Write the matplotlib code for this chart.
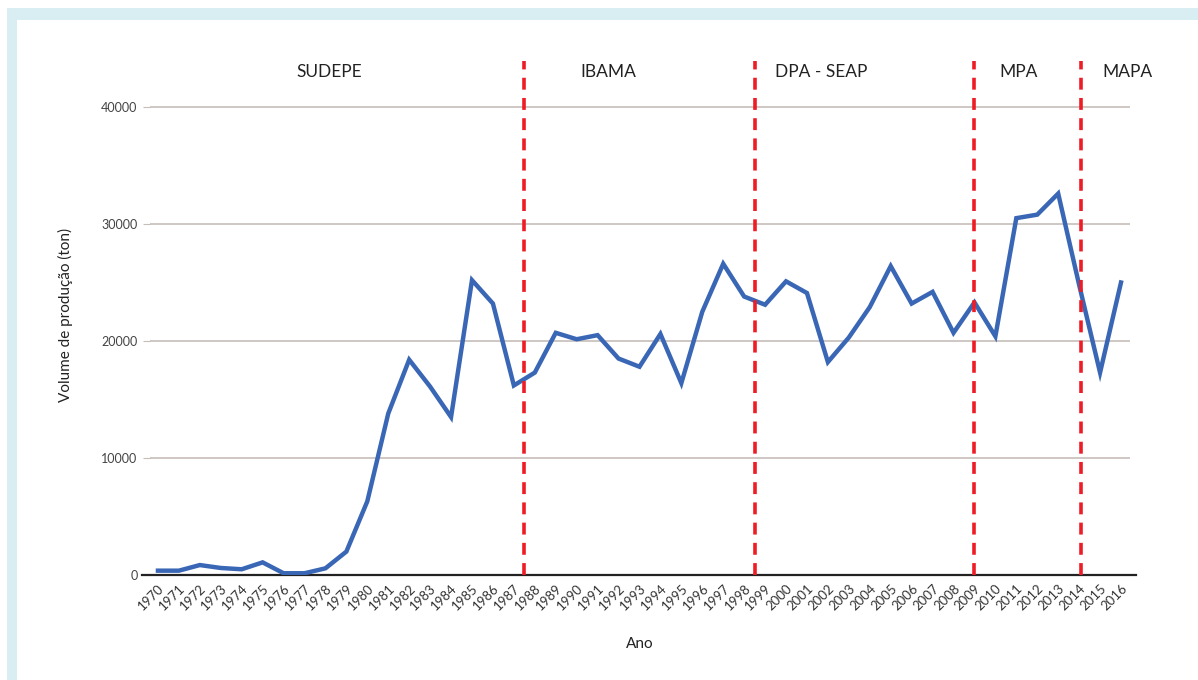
import numpy as np
import matplotlib.pyplot as plt
from matplotlib.patches import Rectangle

plt.rcParams['font.family'] = ['Lato', 'DejaVu Sans']

anos = list(range(1970, 2017))
volume = [370, 370, 850, 600, 490, 1080, 150, 150, 570, 2000,
          6300, 13800, 18400, 16100, 13500, 25200, 23200, 16200, 17300, 20700,
          20150, 20500, 18500, 17800, 20600, 16400, 22500, 26600, 23800, 23100,
          25100, 24100, 18200, 20300, 22900, 26400, 23200, 24200, 20700, 23300,
          20400, 30500, 30800, 32600, 24800, 17300, 25000]

periodos = ['SUDEPE', 'IBAMA', 'DPA - SEAP', 'MPA', 'MAPA']
periodo_x = [1978.2, 1991.5, 2001.7, 2011.1, 2016.3]
divisoes = [1987.5, 1998.5, 2009.0, 2014.1]

fig = plt.figure(figsize=(11.98, 6.8), dpi=100)

# moldura azul clara
fig.patches.append(Rectangle((7/1198, 0), 1, 1 - 8/680, transform=fig.transFigure,
                             facecolor='#d9eef3', edgecolor='none', zorder=-2))
fig.patches.append(Rectangle((17/1198, 0), 1, 1 - 20/680, transform=fig.transFigure,
                             facecolor='white', edgecolor='none', zorder=-1))

ax = fig.add_axes([150/1198, 1 - 575/680, 980/1198, 521/680])
ax.set_facecolor('none')

for y in [10000, 20000, 30000, 40000]:
    ax.axhline(y, color='#c6bdb9', lw=1.2, zorder=1)

ax.plot(anos, volume, color='#3a67b5', lw=3.2, solid_joinstyle='miter', zorder=3)

for x in divisoes:
    ax.plot([x, x], [0, 43900], color='#ee1c25', lw=2.6, dashes=(3.3, 2.3), zorder=4)

for nome, x in zip(periodos, periodo_x):
    ax.text(x, 43000, nome, ha='center', va='center', fontsize=12.5, color='#222222')

ax.set_xlim(1969.62, 2016.43)
ax.set_ylim(0, 44530)
ax.set_xticks(anos)
ax.set_xticklabels([str(a) for a in anos], rotation=45, ha='right',
                   rotation_mode='anchor', fontsize=9.5, color='#333333')
ax.set_yticks([0, 10000, 20000, 30000, 40000])
ax.set_yticklabels(['0', '10000', '20000', '30000', '40000'], fontsize=9, color='#444444')
ax.tick_params(axis='x', length=0, pad=5)
ax.tick_params(axis='y', length=5, color='#c6bdb9', pad=4)

for s in ['top', 'right', 'left']:
    ax.spines[s].set_visible(False)
ax.spines['bottom'].set_color('#222222')
ax.spines['bottom'].set_linewidth(1.6)
ax.spines['bottom'].set_bounds(1969.25, 2016.7)

ax.set_ylabel('Volume de produção (ton)', fontsize=11, color='#222222', labelpad=20)
ax.set_xlabel('Ano', fontsize=11, color='#222222', labelpad=18)

fig.savefig('out.png', dpi=100)
